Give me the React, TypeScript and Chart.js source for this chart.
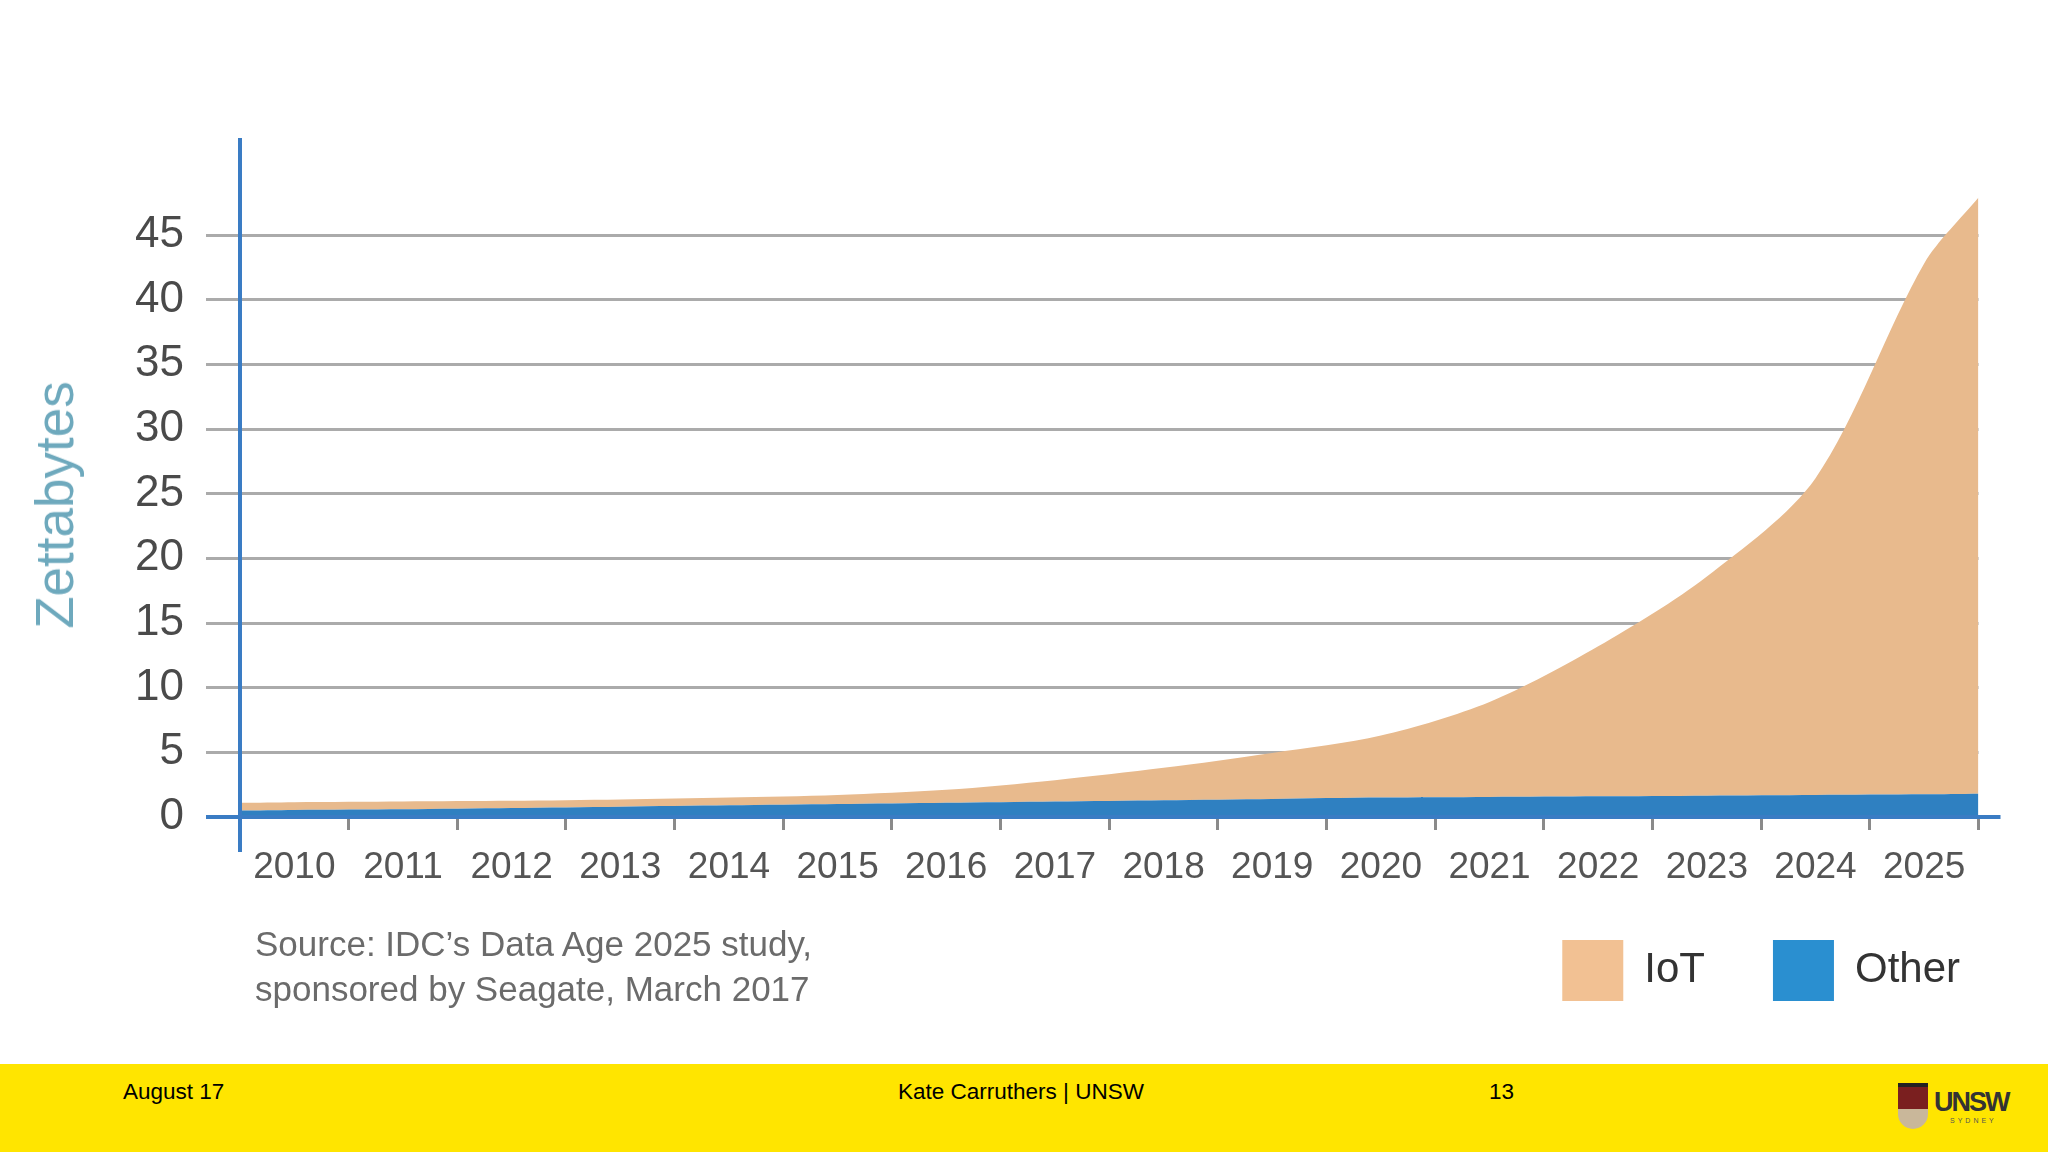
import React, { useEffect, useRef } from 'react';
import { Chart, registerables } from 'chart.js';

Chart.register(...registerables);

// ---- data ----
const yearLabels = [2010, 2011, 2012, 2013, 2014, 2015, 2016, 2017, 2018, 2019, 2020, 2021, 2022, 2023, 2024, 2025];
// x positions of the plotted points: left edge of 2010 band, each year centre, right edge of 2025 band
const xPoints = [2009.5, 2010, 2011, 2012, 2013, 2014, 2015, 2016, 2017, 2018, 2019, 2020, 2021, 2022, 2023, 2024, 2025, 2025.5];
const otherValues = [0.5, 0.55, 0.6, 0.7, 0.8, 0.9, 1.0, 1.1, 1.2, 1.3, 1.4, 1.5, 1.55, 1.6, 1.65, 1.7, 1.75, 1.8];
const iotValues = [0.6, 0.6, 0.6, 0.55, 0.55, 0.6, 0.7, 1.0, 1.65, 2.5, 3.55, 4.8, 7.35, 11.6, 16.95, 24.5, 41.05, 46.1];
const yTickValues = [0, 5, 10, 15, 20, 25, 30, 35, 40, 45];
const seriesNames = ['Other', 'IoT'];
const areaColors = ['#2F80C1', '#E8BA8D'];
const legendColors = ['#2A8FD0', '#F2C193'];
const AXIS_BLUE = '#3A7CC4';
const FONT = "'Liberation Sans', Arial, sans-serif";

const axisLinesPlugin = {
  id: 'axisLines',
  afterDatasetsDraw(chart: any) {
    const { ctx, chartArea, scales } = chart;
    const y0 = scales.y.getPixelForValue(0);
    ctx.save();
    ctx.strokeStyle = AXIS_BLUE;
    ctx.lineWidth = 4;
    ctx.beginPath();
    ctx.moveTo(chartArea.left, chartArea.top);
    ctx.lineTo(chartArea.left, chartArea.bottom + 35);
    ctx.stroke();
    ctx.beginPath();
    ctx.moveTo(chartArea.left - 34, y0);
    ctx.lineTo(chartArea.right + 22, y0);
    ctx.stroke();
    ctx.restore();
  },
};

function AreaChart() {
  const ref = useRef<HTMLCanvasElement | null>(null);
  useEffect(() => {
    if (!ref.current) return;
    const chart = new Chart(ref.current, {
      type: 'line',
      data: {
        datasets: [
          {
            label: seriesNames[0],
            data: xPoints.map((x, i) => ({ x, y: otherValues[i] })),
            backgroundColor: areaColors[0],
            borderWidth: 0,
            pointRadius: 0,
            fill: 'origin',
            tension: 0.3,
          },
          {
            label: seriesNames[1],
            data: xPoints.map((x, i) => ({ x, y: iotValues[i] })),
            backgroundColor: areaColors[1],
            borderWidth: 0,
            pointRadius: 0,
            fill: '-1',
            tension: 0.3,
          },
        ],
      },
      options: {
        responsive: false,
        animation: false,
        devicePixelRatio: 1,
        layout: { padding: { top: 138, left: 0, right: 20, bottom: 53 } },
        plugins: {
          tooltip: { enabled: false },
          legend: {
            position: 'bottom',
            align: 'end',
            reverse: true,
            labels: {
              boxWidth: 61,
              boxHeight: 61,
              padding: 68,
              color: '#333333',
              font: { family: FONT, size: 42 },
              generateLabels: (c: any) =>
                c.data.datasets.map((ds: any, i: number) => ({
                  text: ds.label,
                  fillStyle: legendColors[i],
                  strokeStyle: legendColors[i],
                  lineWidth: 0,
                  hidden: false,
                  datasetIndex: i,
                  fontColor: '#333333',
                })),
            },
          },
        },
        scales: {
          x: {
            type: 'linear',
            min: xPoints[0],
            max: xPoints[xPoints.length - 1],
            afterBuildTicks: (s: any) => {
              s.ticks = yearLabels.flatMap((y) => [{ value: y }, { value: y + 0.5 }]);
            },
            afterFit: (s: any) => {
              s.height = 55;
              // let the year labels draw below the shortened axis box
              s._computeLabelArea = () => undefined;
            },
            border: { display: false },
            grid: {
              display: true,
              drawOnChartArea: false,
              drawTicks: true,
              tickLength: 13,
              lineWidth: 3,
              color: (ctx: any) => (ctx.tick && Number.isInteger(ctx.tick.value) ? 'rgba(0,0,0,0)' : '#8A8A8A'),
            },
            ticks: {
              autoSkip: false,
              maxRotation: 0,
              minRotation: 0,
              padding: 16,
              color: '#555555',
              font: { family: FONT, size: 37 },
              callback: (v: any) => (Number.isInteger(v) ? String(v) : ''),
            },
          },
          y: {
            type: 'linear',
            stacked: true,
            min: 0,
            max: 52.5,
            afterBuildTicks: (s: any) => {
              s.ticks = yTickValues.map((v) => ({ value: v }));
            },
            afterFit: (s: any) => {
              s.width = 240;
            },
            border: { display: false },
            grid: {
              drawTicks: true,
              tickLength: 34,
              lineWidth: 3,
              color: (ctx: any) => (ctx.tick && ctx.tick.value === 0 ? 'rgba(0,0,0,0)' : '#ABABAB'),
            },
            ticks: {
              padding: 22,
              color: '#4A4A4A',
              font: { family: FONT, size: 44 },
              callback: (v: any) => String(v),
            },
          },
          pad: {
            type: 'linear',
            position: 'right',
            display: true,
            grid: { display: false, drawTicks: false },
            ticks: { display: false },
            border: { display: false },
            afterFit: (s: any) => {
              s.width = 49.5;
            },
          },
        },
      } as any,
      plugins: [axisLinesPlugin],
    });
    return () => chart.destroy();
  }, []);
  return <canvas ref={ref} width={2048} height={1064} style={{ width: 2048, height: 1064, display: 'block' }} />;
}

export default function App() {
  const footText: React.CSSProperties = {
    position: 'absolute',
    top: 1078,
    fontFamily: FONT,
    fontSize: 22.5,
    color: '#000',
    lineHeight: '28px',
  };
  return (
    <div style={{ position: 'absolute', left: 0, top: 0, width: 2048, height: 1152, background: '#ffffff', overflow: 'hidden' }}>
      <div style={{ position: 'absolute', left: 0, top: 0 }}>
        <AreaChart />
      </div>
      <div
        style={{
          position: 'absolute',
          left: 55,
          top: 505,
          transform: 'translate(-50%, -50%) rotate(-90deg)',
          whiteSpace: 'nowrap',
          fontFamily: FONT,
          fontSize: 53,
          lineHeight: '60px',
          color: '#6EA9BD',
        }}
      >
        Zettabytes
      </div>
      <div
        style={{
          position: 'absolute',
          left: 255,
          top: 921,
          fontFamily: FONT,
          fontSize: 35,
          lineHeight: '45px',
          color: '#6B6B6B',
        }}
      >
        <div>Source: IDC’s Data Age 2025 study,</div>
        <div>sponsored by Seagate, March 2017</div>
      </div>
      <div style={{ position: 'absolute', left: 0, top: 1064, width: 2048, height: 88, background: '#FFE500' }} />
      <div style={{ ...footText, left: 123 }}>August 17</div>
      <div style={{ ...footText, left: 898 }}>Kate Carruthers | UNSW</div>
      <div style={{ ...footText, left: 1489 }}>13</div>
      <div style={{ position: 'absolute', left: 1898, top: 1083, width: 30, height: 50 }}>
        <div style={{ width: 30, height: 22, background: '#7a1f1f', borderTop: '4px solid #222' }} />
        <div style={{ width: 30, height: 20, background: '#c9b79a', borderRadius: '0 0 15px 15px' }} />
      </div>
      <div
        style={{
          position: 'absolute',
          left: 1934,
          top: 1088,
          fontFamily: FONT,
          fontSize: 27,
          fontWeight: 'bold',
          letterSpacing: -2,
          color: '#333',
          lineHeight: '28px',
        }}
      >
        UNSW
      </div>
      <div
        style={{
          position: 'absolute',
          left: 1950,
          top: 1117,
          fontFamily: FONT,
          fontSize: 7,
          letterSpacing: 3,
          color: '#555',
        }}
      >
        SYDNEY
      </div>
    </div>
  );
}
